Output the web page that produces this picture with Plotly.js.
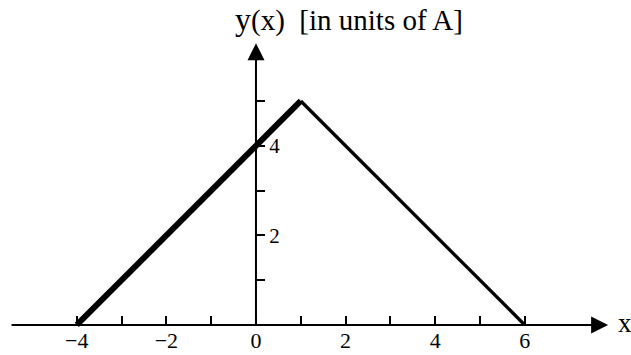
<!DOCTYPE html>
<html>
<head>
<meta charset="utf-8">
<script src="https://cdn.plot.ly/plotly-3.0.1.min.js"></script>
<style>html,body{margin:0;padding:0;background:#fff;}</style>
</head>
<body>
<div id="chart" style="width:631px;height:355px;"></div>
<script>
// Data
const xPoints = [-4, 1, 6];
const yPoints = [0, 5, 0];
const xTickVals = [-4, -3, -2, -1, 0, 1, 2, 3, 4, 5, 6];
const xTickText = ['\u22124', '', '\u22122', '', '0', '', '2', '', '4', '', '6'];
const yTickVals = [1, 2, 3, 4, 5];
const yTickText = ['', '2', '', '4', ''];

const FONT = 'Liberation Serif, Times New Roman, serif';

const traces = [
  {x: xPoints.slice(0, 2), y: yPoints.slice(0, 2), mode: 'lines', type: 'scatter',
   line: {color: '#000', width: 6}, hoverinfo: 'skip'},
  {x: xPoints.slice(1, 3), y: yPoints.slice(1, 3), mode: 'lines', type: 'scatter',
   line: {color: '#000', width: 3.3}, hoverinfo: 'skip'}
];

const layout = {
  width: 631, height: 355,
  margin: {l: 0, r: 0, t: 0, b: 0, pad: 0},
  paper_bgcolor: '#fff', plot_bgcolor: '#fff',
  showlegend: false,
  font: {family: FONT, color: '#000', size: 20},
  title: {
    text: '<span style="font-size:32px">y</span>(x)&nbsp;&nbsp;[in units of A]',
    x: 235/631, xanchor: 'left', xref: 'paper',
    y: 1 - 20/355, yanchor: 'middle', yref: 'container',
    font: {family: FONT, size: 29, color: '#000'}
  },
  xaxis: {
    range: [-5.714, 8.371], anchor: 'free', position: 0.0846,
    showgrid: false, zeroline: false, showline: false,
    tickmode: 'array', tickvals: xTickVals, ticktext: xTickText,
    ticks: 'inside', ticklen: 9, tickwidth: 2, tickcolor: '#000',
    tickfont: {family: FONT, size: 22, color: '#000'},
    fixedrange: true
  },
  yaxis: {
    range: [-0.670, 7.254], anchor: 'free', position: 256/631, side: 'right',
    showgrid: false, zeroline: false, showline: false,
    tickmode: 'array', tickvals: yTickVals, ticktext: yTickText,
    ticks: 'outside', ticklen: 8, tickwidth: 2, tickcolor: '#000',
    tickfont: {family: FONT, size: 21, color: '#000'},
    fixedrange: true
  },
  annotations: [
    {x: 7.86, y: 0, ax: -5.49, ay: 0, xref: 'x', yref: 'y', axref: 'x', ayref: 'y',
     text: '', showarrow: true, arrowhead: 2, arrowsize: 1.7, arrowwidth: 2, arrowcolor: '#000', standoff: 0},
    {x: 0, y: 6.29, ax: 0, ay: 0, xref: 'x', yref: 'y', axref: 'x', ayref: 'y',
     text: '', showarrow: true, arrowhead: 2, arrowsize: 1.7, arrowwidth: 2, arrowcolor: '#000', standoff: 0},
    {x: 8.24, y: 0.05, xref: 'x', yref: 'y', text: 'x', showarrow: false,
     font: {family: FONT, size: 27, color: '#000'}, xanchor: 'center', yanchor: 'middle'}
  ]
};

Plotly.newPlot('chart', traces, layout, {displayModeBar: false, staticPlot: true});
</script>
</body>
</html>
